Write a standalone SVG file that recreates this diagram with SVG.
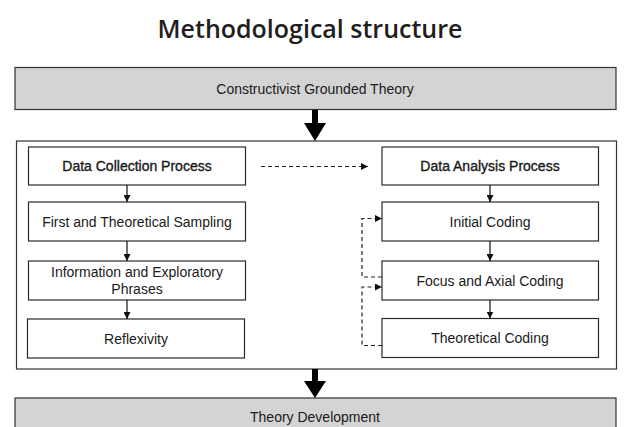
<svg xmlns="http://www.w3.org/2000/svg" width="626" height="427" viewBox="0 0 626 427">
  <style>
    .band { fill: #d4d4d4; stroke: #333; stroke-width: 1.2; }
    .box { fill: #fff; stroke: #2a2a2a; stroke-width: 1.2; }
    .frame { fill: #fff; stroke: #333; stroke-width: 1.2; }
    .lbl { font-family: "Liberation Sans", Arial, sans-serif; font-size: 14px; fill: #1a1a1a; text-anchor: middle; }
    .strong { stroke: #1a1a1a; stroke-width: 0.35; }
    .title { font-family: "Open Sans", "Noto Sans", sans-serif; font-weight: 600; font-size: 25px; fill: #1e1e1e; text-anchor: middle; }
    .flow { stroke: #111; stroke-width: 1.2; fill: none; }
    .dash { stroke: #222; stroke-width: 1.2; fill: none; stroke-dasharray: 4 3; }
    .thick { fill: #000; }
  </style>
  <defs>
    <marker id="tip" viewBox="0 0 10 10" refX="10" refY="5" markerWidth="7" markerHeight="7" markerUnits="userSpaceOnUse" orient="auto">
      <path d="M0,0 L10,5 L0,10 Z" fill="#111"/>
    </marker>
  </defs>

  <text class="title" x="310" y="38">Methodological structure</text>

  <g id="grounded-theory">
    <rect class="band" x="15" y="67.5" width="601" height="42"/>
    <text class="lbl" x="315" y="94">Constructivist Grounded Theory</text>
  </g>

  <g id="process-frame">
    <rect class="frame" x="16.5" y="141" width="600" height="228"/>
  </g>

  <g id="data-collection">
    <rect class="box" x="28.5" y="147" width="217" height="38"/>
    <text class="lbl strong" x="137" y="171">Data Collection Process</text>
  </g>
  <g id="sampling">
    <rect class="box" x="28.5" y="202" width="217" height="39"/>
    <text class="lbl" x="137" y="226.5">First and Theoretical Sampling</text>
  </g>
  <g id="information">
    <rect class="box" x="28.5" y="261" width="217" height="39"/>
    <text class="lbl" x="137" y="277">Information and Exploratory</text>
    <text class="lbl" x="137" y="294">Phrases</text>
  </g>
  <g id="reflexivity">
    <rect class="box" x="27.5" y="319" width="217" height="39"/>
    <text class="lbl" x="136" y="343.5">Reflexivity</text>
  </g>

  <g id="data-analysis">
    <rect class="box" x="382" y="147" width="216.5" height="38"/>
    <text class="lbl strong" x="490" y="171">Data Analysis Process</text>
  </g>
  <g id="initial-coding">
    <rect class="box" x="382" y="202" width="216.5" height="39"/>
    <text class="lbl" x="490" y="226.5">Initial Coding</text>
  </g>
  <g id="focus-axial-coding">
    <rect class="box" x="382" y="261" width="216.5" height="39"/>
    <text class="lbl" x="490" y="285.5">Focus and Axial Coding</text>
  </g>
  <g id="theoretical-coding">
    <rect class="box" x="382" y="318.5" width="216.5" height="39"/>
    <text class="lbl" x="490" y="343">Theoretical Coding</text>
  </g>

  <g id="theory-development">
    <rect class="band" x="15" y="398" width="601" height="40"/>
    <text class="lbl" x="315" y="422">Theory Development</text>
  </g>

  <g id="connectors">
    <!-- main flow -->
    <path class="thick" d="M312,110 h6 v13 h8 l-11,18 l-11,-18 h8 z"/>
    <path class="thick" d="M312,369 h6 v12 h8 l-11,17 l-11,-17 h8 z"/>

    <!-- collection column -->
    <line class="flow" x1="127" y1="185" x2="127" y2="202" marker-end="url(#tip)"/>
    <line class="flow" x1="127" y1="241" x2="127" y2="261" marker-end="url(#tip)"/>
    <line class="flow" x1="127" y1="300" x2="127" y2="319" marker-end="url(#tip)"/>

    <!-- analysis column -->
    <line class="flow" x1="490" y1="185" x2="490" y2="202" marker-end="url(#tip)"/>
    <line class="flow" x1="490" y1="241" x2="490" y2="261" marker-end="url(#tip)"/>
    <line class="flow" x1="490" y1="300" x2="490" y2="318.5" marker-end="url(#tip)"/>

    <!-- collection feeds analysis -->
    <line class="dash" x1="261" y1="166.5" x2="368" y2="166.5" marker-end="url(#tip)"/>

    <!-- iterative loops -->
    <path class="dash" d="M382,277 H362 V218.5 H382" marker-end="url(#tip)"/>
    <path class="dash" d="M382,345.5 H362 V287 H382" marker-end="url(#tip)"/>
  </g>
</svg>
